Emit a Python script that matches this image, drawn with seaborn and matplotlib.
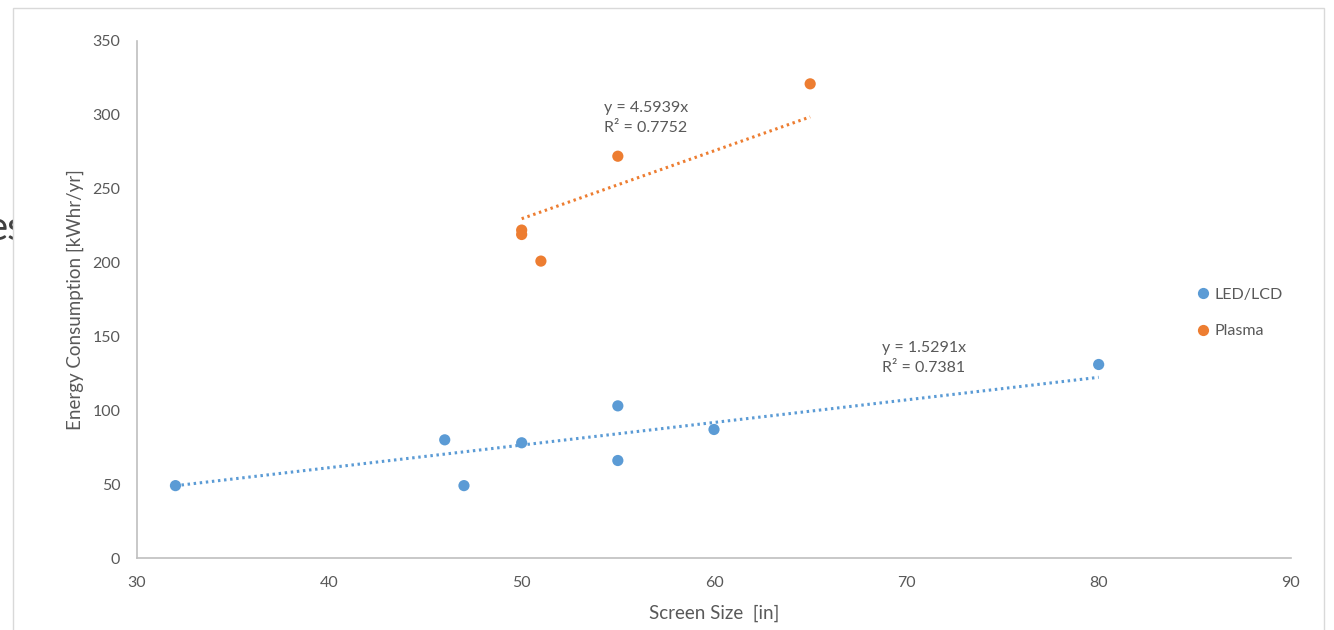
import numpy as np
import pandas as pd
import seaborn as sns
import matplotlib.pyplot as plt
from matplotlib.patches import Rectangle

# LED/LCD TVs: screen size (in) and energy use (kWhr/yr)
led_size = [32, 46, 47, 50, 55, 55, 60, 80]
led_energy = [49, 80, 49, 78, 103, 66, 87, 131]

# Plasma TVs
plasma_size = [50, 50, 51, 55, 65]
plasma_energy = [222, 219, 201, 272, 321]

# Excel trendlines (through origin)
led_slope, led_r2 = 1.5291, 0.7381
plasma_slope, plasma_r2 = 4.5939, 0.7752

blue = '#5B9BD5'
orange = '#ED7D31'
grey = '#595959'

df = pd.DataFrame({
    'size': led_size + plasma_size,
    'energy': led_energy + plasma_energy,
    'type': ['LED/LCD'] * len(led_size) + ['Plasma'] * len(plasma_size),
})

sns.set_style('white')
plt.rcParams['font.family'] = ['Lato', 'DejaVu Sans']

fig = plt.figure(figsize=(13.34, 6.3), dpi=100)

# cut-off slide text behind the chart box
fig.text(-14 / 1334, 1 - 240 / 630, 'es', fontsize=29, color='#404040',
         ha='left', va='baseline', zorder=-2)
fig.patches.append(Rectangle((12.5 / 1334, -0.1), (1324 - 12.5) / 1334, 1.1 - 8 / 630,
                             transform=fig.transFigure, facecolor='white',
                             edgecolor='#d9d9d9', linewidth=1, zorder=-1))

ax = fig.add_axes([137 / 1334, 1 - 558 / 630, (1291 - 137) / 1334, (558 - 41) / 630])
ax.set_facecolor('none')

sns.scatterplot(data=df, x='size', y='energy', hue='type',
                palette={'LED/LCD': blue, 'Plasma': orange},
                s=65, edgecolor='none', ax=ax, zorder=3)

# trendlines
lx = np.array([min(led_size), max(led_size)])
px = np.array([min(plasma_size), max(plasma_size)])
ax.plot(lx, led_slope * lx, color=blue, linestyle=(0, (0.8, 1.2)), linewidth=2.2)
ax.plot(px, plasma_slope * px, color=orange, linestyle=(0, (0.8, 1.2)), linewidth=2.2)

ax.text(54.28, 298, f'y = {plasma_slope}x\nR² = {plasma_r2}', fontsize=11.5,
        color=grey, ha='left', va='center', linespacing=1.55)
ax.text(68.74, 135.5, f'y = {led_slope}x\nR² = {led_r2}', fontsize=11.5,
        color=grey, ha='left', va='center', linespacing=1.55)

ax.set_xlim(30, 90)
ax.set_ylim(0, 350)
ax.set_xticks(range(30, 91, 10))
ax.set_yticks(range(0, 351, 50))

for side in ['top', 'right']:
    ax.spines[side].set_visible(False)
for side in ['left', 'bottom']:
    ax.spines[side].set_color('#bfbfbf')
    ax.spines[side].set_linewidth(1.2)

ax.tick_params(axis='x', direction='in', length=5, color='#bfbfbf',
               labelsize=11.5, labelcolor=grey, pad=13)
ax.tick_params(axis='y', direction='out', length=5, color='#bfbfbf',
               labelsize=11.5, labelcolor=grey, pad=7)

ax.set_xlabel('Screen Size  [in]', fontsize=13.5, color=grey, va='center')
ax.set_ylabel('Energy Consumption [kWhr/yr]', fontsize=13.5, color=grey, va='center')
ax.xaxis.set_label_coords((714 - 137) / 1154, -(613 - 558) / 517)
ax.yaxis.set_label_coords((75 - 137) / 1154, 0.5)

ax.legend(loc='center left', bbox_to_anchor=(1179 / 1334, 1 - 313 / 630),
          bbox_transform=fig.transFigure, frameon=False, fontsize=11.5,
          labelcolor=grey, handletextpad=-0.3, labelspacing=1.4,
          markerscale=1.0, borderpad=0)

fig.savefig('out.png', dpi=100)
